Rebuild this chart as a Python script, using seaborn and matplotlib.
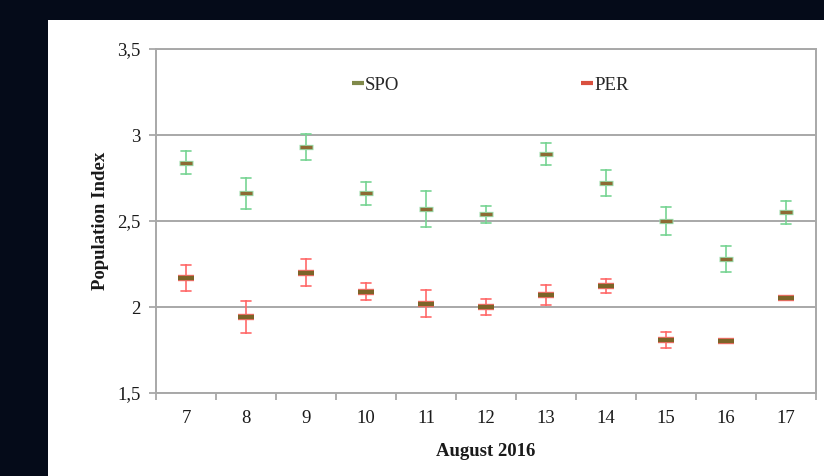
import matplotlib
matplotlib.use("Agg")
import matplotlib.pyplot as plt
import seaborn as sns
import pandas as pd
from matplotlib.lines import Line2D
from matplotlib.patches import Rectangle

# values (mean and half-width of the error bar)
days = ["7", "8", "9", "10", "11", "12", "13", "14", "15", "16", "17"]
spo_mean = [2.84, 2.66, 2.93, 2.66, 2.57, 2.54, 2.89, 2.72, 2.50, 2.28, 2.55]
spo_err = [0.065, 0.09, 0.075, 0.065, 0.105, 0.05, 0.065, 0.075, 0.08, 0.075, 0.065]
per_mean = [2.17, 1.94, 2.20, 2.09, 2.02, 2.00, 2.07, 2.12, 1.81, 1.80, 2.05]
per_err = [0.075, 0.093, 0.08, 0.05, 0.08, 0.045, 0.06, 0.04, 0.047, 0.01, 0.01]
y_ticks = [1.5, 2, 2.5, 3, 3.5]
y_labels = ["1,5", "2", "2,5", "3", "3,5"]

# long table: low / mean / high per day, so pointplot's min-max interval gives the bar
rows = []
for name, means, errs in [("SPO", spo_mean, spo_err), ("PER", per_mean, per_err)]:
    for d, m, e in zip(days, means, errs):
        for v in (m - e, m, m + e):
            rows.append({"day": d, "series": name, "value": v})
df = pd.DataFrame(rows)

sns.set_theme(style="white")
plt.rcParams["font.family"] = ["Liberation Serif", "DejaVu Serif"]

fig = plt.figure(figsize=(8.24, 4.76), dpi=100, facecolor="#050b19")
fig.add_artist(Rectangle((48 / 824, 0), 1, 456 / 476, transform=fig.transFigure,
                         facecolor="white", edgecolor="none", zorder=-10))
ax = fig.add_axes([156 / 824, 1 - 393 / 476, 660 / 824, 344 / 476])
ax.set_facecolor("white")

styles = {
    "SPO": {"bar": "#78d494", "edge": "#9adcaa", "mid": "#8d6a34", "ms": 8.5, "mew": 2.4},
    "PER": {"bar": "#ff6a6a", "edge": "#ff7070", "mid": "#7c6428", "ms": 11, "mew": 3.2},
}
for name in ["SPO", "PER"]:
    st = styles[name]
    sub = df[df["series"] == name]
    sns.pointplot(data=sub, x="day", y="value", order=days, estimator="mean",
                  errorbar=("pi", 100), capsize=0.17, linestyle="none",
                  markersize=0, color=st["bar"], err_kws={"linewidth": 1.2}, ax=ax)
    # soft outline then the dark centre dash for the mean
    sns.pointplot(data=sub, x="day", y="value", order=days, estimator="mean",
                  errorbar=None, linestyle="none", marker="_",
                  markersize=st["ms"] + 1, markeredgewidth=st["mew"] + 1.4,
                  color=st["edge"], ax=ax)
    sns.pointplot(data=sub, x="day", y="value", order=days, estimator="mean",
                  errorbar=None, linestyle="none", marker="_",
                  markersize=st["ms"], markeredgewidth=st["mew"],
                  color=st["mid"], ax=ax)

ax.set_xlim(-0.5, len(days) - 0.5)
ax.set_ylim(1.5, 3.5)
ax.set_yticks(y_ticks)
ax.set_yticklabels(y_labels)
ax.set_xticks(range(len(days)))
ax.set_xticklabels(days)
ax.set_xticks([i - 0.5 for i in range(len(days) + 1)], minor=True)
ax.tick_params(axis="x", which="major", bottom=False, length=0, labelsize=13.5, pad=12,
               labelcolor="#1a1a1a")
ax.tick_params(axis="x", which="minor", bottom=True, length=5, width=1.3, color="#a8a8a8",
               direction="out")
ax.tick_params(axis="y", which="major", left=True, length=5, width=1.3, color="#a8a8a8",
               direction="out", labelsize=13.5, pad=6, labelcolor="#1a1a1a")
ax.yaxis.grid(True, color="#a8a8a8", linewidth=1.4)
ax.set_axisbelow(True)
for s in ax.spines.values():
    s.set_color("#a8a8a8")
    s.set_linewidth(1.4)

ax.set_xlabel("August 2016", fontsize=13.5, fontweight="bold", color="#1a1a1a", labelpad=12)
ax.set_ylabel("Population Index", fontsize=13.5, fontweight="bold", color="#1a1a1a", labelpad=6)

handles = [
    Line2D([], [], linestyle="none", marker="_", markersize=8, markeredgewidth=3,
           color="#80894a", label="SPO"),
    Line2D([], [], linestyle="none", marker="_", markersize=8, markeredgewidth=3,
           color="#d9503f", label="PER"),
]
ax.legend(handles=handles, loc="center", bbox_to_anchor=(0.507, 0.895), ncol=2,
          frameon=False, fontsize=13.5, columnspacing=9.7, handlelength=0.6,
          handletextpad=0.1)

fig.savefig("out.png", dpi=100, facecolor=fig.get_facecolor())
